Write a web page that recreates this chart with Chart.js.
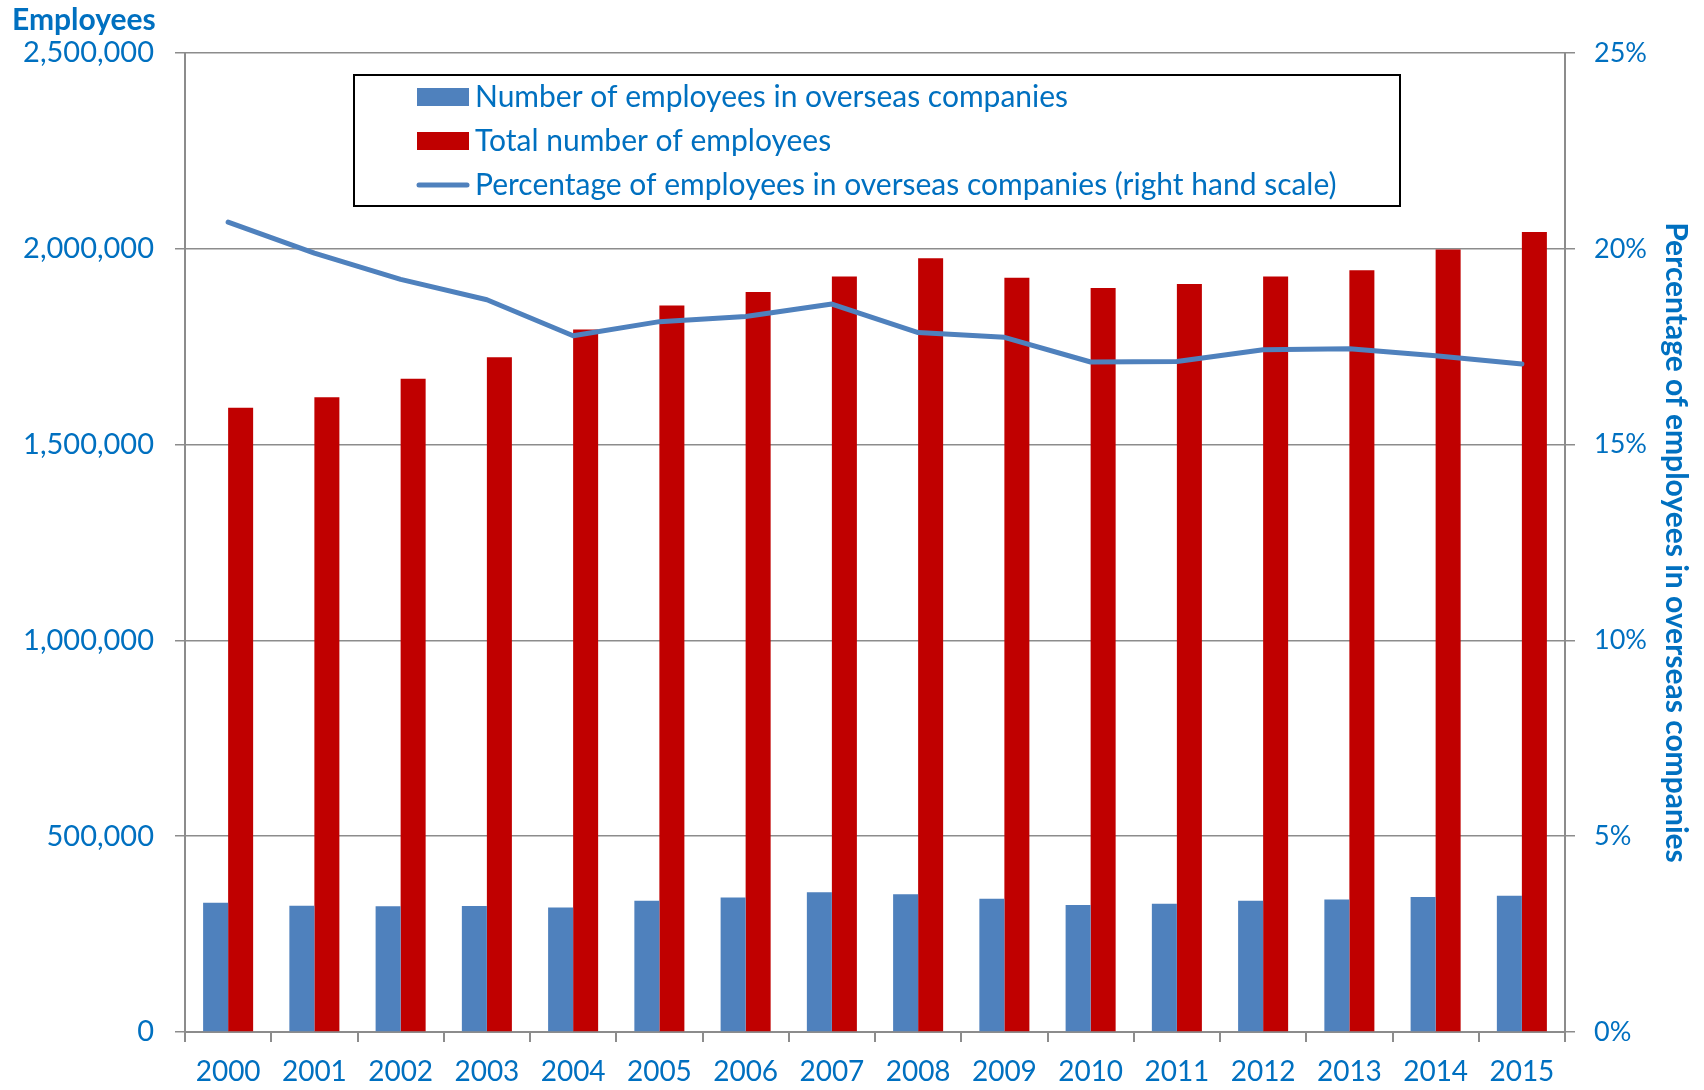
<!DOCTYPE html>
<html lang="en">
<head>
  <meta charset="UTF-8" />
  <title>Employees in overseas companies</title>
  <script src="https://cdn.jsdelivr.net/npm/chart.js"></script>
  <style>
    html, body {
      margin: 0;
      padding: 0;
      background: #ffffff;
    }
    #wrap {
      width: 1704px;
      height: 1090px;
    }
  </style>
</head>
<body>
<div id="wrap">
  <canvas id="grafico" width="1704" height="1090"></canvas>
</div>

<script>
  // Dados
  const anos = ['2000', '2001', '2002', '2003', '2004', '2005', '2006', '2007',
                '2008', '2009', '2010', '2011', '2012', '2013', '2014', '2015'];
  const empregadosExterior = [330000, 322500, 321000, 321500, 318000, 335000, 343500, 357000,
                              352000, 340000, 324000, 327500, 335000, 338500, 344500, 348000];
  const totalEmpregados = [1594000, 1621000, 1668000, 1723000, 1794000, 1855000, 1890000, 1929000,
                           1976000, 1926000, 1900000, 1910000, 1929000, 1945000, 1998000, 2043000];
  const percentualExterior = [20.68, 19.89, 19.22, 18.70, 17.78, 18.14, 18.27, 18.59,
                              17.86, 17.74, 17.11, 17.12, 17.42, 17.45, 17.27, 17.06];

  const tituloEsquerda = 'Employees';
  const tituloDireita = 'Percentage of employees in overseas companies';

  const AZUL_TEXTO = '#0070C0';
  const AZUL = '#4F81BD';
  const VERMELHO = '#C00000';
  const CINZA = '#8C8C8C';
  const FONTE = 'Lato, "Open Sans", sans-serif';

  // Títulos dos eixos e legenda em caixa, desenhados à mão
  const extras = {
    id: 'extras',
    afterDraw(chart) {
      const ctx = chart.ctx;
      const area = chart.chartArea;
      ctx.save();

      ctx.fillStyle = AZUL_TEXTO;
      ctx.font = 'bold 30px ' + FONTE;
      ctx.textAlign = 'left';
      ctx.textBaseline = 'middle';
      ctx.fillText(tituloEsquerda, 12, 20);

      ctx.save();
      ctx.translate(1676, (area.top + area.bottom) / 2);
      ctx.rotate(Math.PI / 2);
      ctx.textAlign = 'center';
      ctx.fillText(tituloDireita, 0, 0);
      ctx.restore();

      // Caixa da legenda
      ctx.lineWidth = 2;
      ctx.strokeStyle = '#000000';
      ctx.fillStyle = '#ffffff';
      ctx.fillRect(354, 75, 1046, 131);
      ctx.strokeRect(354, 75, 1046, 131);

      const ds = chart.data.datasets;
      const ordem = [1, 2, 0];
      const linhas = [97, 141, 185];
      ctx.font = '30px ' + FONTE;
      ctx.textAlign = 'left';
      ordem.forEach((idx, i) => {
        const d = ds[idx];
        const y = linhas[i];
        if (d.type === 'line') {
          ctx.strokeStyle = d.borderColor;
          ctx.lineWidth = 5;
          ctx.lineCap = 'round';
          ctx.beginPath();
          ctx.moveTo(419, y);
          ctx.lineTo(467, y);
          ctx.stroke();
        } else {
          ctx.fillStyle = d.backgroundColor;
          ctx.fillRect(417, y - 9, 52, 18);
        }
        ctx.fillStyle = AZUL_TEXTO;
        ctx.fillText(d.label, 475, y);
      });

      ctx.restore();
    }
  };

  new Chart(document.getElementById('grafico'), {
    data: {
      labels: anos,
      datasets: [
        {
          type: 'line',
          label: 'Percentage of employees in overseas companies (right hand scale)',
          data: percentualExterior,
          yAxisID: 'y2',
          borderColor: AZUL,
          borderWidth: 5,
          borderCapStyle: 'round',
          borderJoinStyle: 'round',
          pointRadius: 0,
          tension: 0,
          order: 0
        },
        {
          type: 'bar',
          label: 'Number of employees in overseas companies',
          data: empregadosExterior,
          yAxisID: 'y',
          backgroundColor: AZUL,
          categoryPercentage: 0.58,
          barPercentage: 1.0,
          order: 1
        },
        {
          type: 'bar',
          label: 'Total number of employees',
          data: totalEmpregados,
          yAxisID: 'y',
          backgroundColor: VERMELHO,
          categoryPercentage: 0.58,
          barPercentage: 1.0,
          order: 2
        }
      ]
    },
    options: {
      responsive: false,
      animation: false,
      layout: { padding: { top: 53, left: 0, right: 0, bottom: 0 } },
      plugins: {
        legend: { display: false },
        tooltip: { enabled: false }
      },
      scales: {
        x: {
          offset: true,
          grid: {
            offset: true,
            drawOnChartArea: false,
            drawTicks: true,
            tickLength: 10,
            color: CINZA,
            lineWidth: 2
          },
          border: { color: CINZA, width: 2 },
          ticks: {
            color: AZUL_TEXTO,
            font: { family: FONTE, size: 28 },
            padding: 13,
            maxRotation: 0,
            autoSkip: false
          },
          afterFit(scale) { scale.height = 58; }
        },
        y: {
          position: 'left',
          min: 0,
          max: 2500000,
          grid: {
            color: CINZA,
            lineWidth: 1.5,
            tickLength: 10
          },
          border: { color: CINZA, width: 2 },
          ticks: {
            stepSize: 500000,
            color: AZUL_TEXTO,
            font: { family: FONTE, size: 29 },
            padding: 21,
            callback: v => v.toLocaleString('en-US')
          },
          afterFit(scale) { scale.width = 185; }
        },
        y2: {
          position: 'right',
          min: 0,
          max: 25,
          grid: {
            drawOnChartArea: false,
            color: CINZA,
            lineWidth: 1.5,
            tickLength: 10
          },
          border: { color: CINZA, width: 2 },
          ticks: {
            stepSize: 5,
            color: AZUL_TEXTO,
            font: { family: FONTE, size: 27 },
            padding: 19,
            callback: v => v + '%'
          },
          afterFit(scale) { scale.width = 139; }
        }
      }
    },
    plugins: [extras]
  });
</script>
</body>
</html>
